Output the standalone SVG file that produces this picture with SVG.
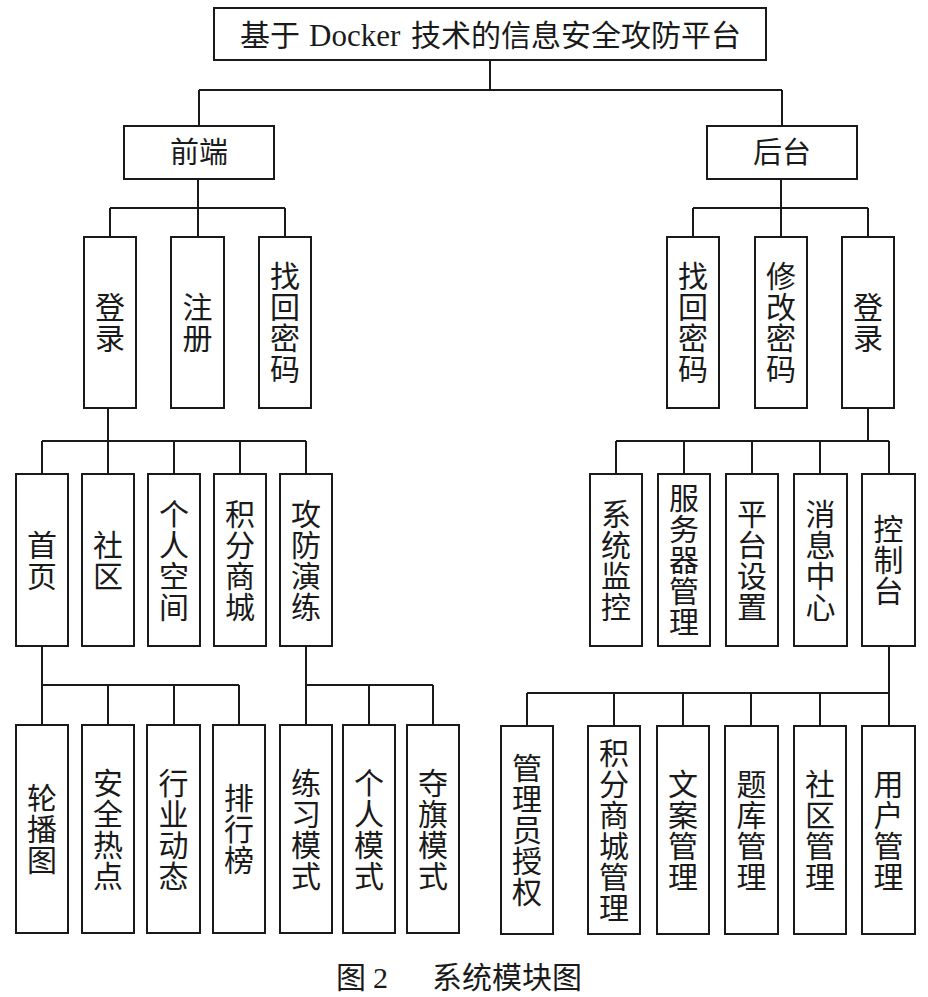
<svg xmlns="http://www.w3.org/2000/svg" width="928" height="997" viewBox="0 0 928 997">
<style>
.b{fill:#fff;stroke:#1a1a1a;stroke-width:2}
.c{fill:none;stroke:#1a1a1a;stroke-width:2}
.t{font-family:"Noto Sans CJK SC","Noto Sans",sans-serif;font-size:30px;fill:#1a1a1a;text-anchor:middle;writing-mode:vertical-rl;letter-spacing:1px}
.h{font-family:"Noto Sans CJK SC","Noto Sans",sans-serif;font-size:29px;fill:#1a1a1a;text-anchor:middle}
.cap{font-family:"Noto Sans CJK SC",sans-serif;font-size:30px;fill:#1a1a1a}
</style>
<rect width="928" height="997" fill="#fff"/>
<g id="connectors" class="c">
<path d="M490,60V90M199,90H782M199,90V126M782,90V126"/>
<path d="M198,179V208M110,208H285M110,208V237M198,208V237M285,208V237"/>
<path d="M781,179V208M693,208H868M693,208V237M781,208V237M868,208V237"/>
<path d="M108,408V441M42,441H306M42,441V474M108,441V474M174,441V474M240,441V474M306,441V474"/>
<path d="M868,408V441M616,441H889M616,441V474M684,441V474M752,441V474M820,441V474M889,441V474"/>
<path d="M42,646V685M42,685H239M42,685V725M108,685V725M174,685V725M239,685V725"/>
<path d="M306,646V685M306,685H433M306,685V725M369,685V725M433,685V725"/>
<path d="M889,646V693M527,693H889M527,693V726M614,693V726M683,693V726M751,693V726M820,693V726M889,693V726"/>
</g>
<g id="root">
<rect class="b" x="214" y="8" width="552" height="52"/>
<text y="45.5" style="font-family:'Noto Sans CJK SC',sans-serif;font-size:30px;fill:#1a1a1a"><tspan x="240">基于</tspan><tspan x="309" style="font-family:'Liberation Serif',serif;font-size:31px">Docker</tspan><tspan x="411">技术的信息安全攻防平台</tspan></text>
</g>
<g id="frontend"><rect class="b" x="124" y="126" width="150" height="53"/><text class="h" x="199" y="163">前端</text></g>
<g id="backend"><rect class="b" x="707" y="126" width="150" height="53"/><text class="h" x="782" y="163">后台</text></g>

<g id="fe-login"><rect class="b" x="84" y="237" width="52" height="171"/><text class="t" x="110" y="323">登录</text></g>
<g id="fe-register"><rect class="b" x="171" y="237" width="53" height="171"/><text class="t" x="197.5" y="323">注册</text></g>
<g id="fe-findpwd"><rect class="b" x="259" y="237" width="52" height="171"/><text class="t" x="285" y="323">找回密码</text></g>

<g id="be-findpwd"><rect class="b" x="667" y="237" width="52" height="171"/><text class="t" x="693" y="323">找回密码</text></g>
<g id="be-changepwd"><rect class="b" x="755" y="237" width="52" height="171"/><text class="t" x="781" y="323">修改密码</text></g>
<g id="be-login"><rect class="b" x="842" y="237" width="52" height="171"/><text class="t" x="868" y="323">登录</text></g>

<g id="home"><rect class="b" x="16" y="474" width="52" height="172"/><text class="t" x="42" y="560.5">首页</text></g>
<g id="community"><rect class="b" x="82" y="474" width="52" height="172"/><text class="t" x="108" y="560.5">社区</text></g>
<g id="space"><rect class="b" x="148" y="474" width="52" height="172"/><text class="t" x="174" y="560.5">个人空间</text></g>
<g id="shop"><rect class="b" x="214" y="474" width="52" height="172"/><text class="t" x="240" y="560.5">积分商城</text></g>
<g id="drill"><rect class="b" x="280" y="474" width="52" height="172"/><text class="t" x="306" y="560.5">攻防演练</text></g>

<g id="monitor"><rect class="b" x="590" y="474" width="52" height="172"/><text class="t" x="616" y="560.5">系统监控</text></g>
<g id="server"><rect class="b" x="658" y="474" width="52" height="172"/><text class="t" x="684" y="560.5">服务器管理</text></g>
<g id="settings"><rect class="b" x="726" y="474" width="52" height="172"/><text class="t" x="752" y="560.5">平台设置</text></g>
<g id="messages"><rect class="b" x="794" y="474" width="53" height="172"/><text class="t" x="820.5" y="560.5">消息中心</text></g>
<g id="console"><rect class="b" x="862" y="474" width="53" height="172"/><text class="t" x="888.5" y="560.5">控制台</text></g>

<g id="carousel"><rect class="b" x="16" y="725" width="52" height="208"/><text class="t" x="42" y="829.5">轮播图</text></g>
<g id="hotspot"><rect class="b" x="82" y="725" width="52" height="208"/><text class="t" x="108" y="829.5">安全热点</text></g>
<g id="news"><rect class="b" x="147" y="725" width="53" height="208"/><text class="t" x="173.5" y="829.5">行业动态</text></g>
<g id="ranking"><rect class="b" x="213" y="725" width="52" height="208"/><text class="t" x="239" y="829.5">排行榜</text></g>
<g id="practice"><rect class="b" x="280" y="725" width="52" height="208"/><text class="t" x="306" y="829.5">练习模式</text></g>
<g id="personal"><rect class="b" x="343" y="725" width="52" height="208"/><text class="t" x="369" y="829.5">个人模式</text></g>
<g id="ctf"><rect class="b" x="407" y="725" width="52" height="208"/><text class="t" x="433" y="829.5">夺旗模式</text></g>

<g id="admin-auth"><rect class="b" x="501" y="726" width="52" height="208"/><text class="t" x="527" y="830.5">管理员授权</text></g>
<g id="shop-mgmt"><rect class="b" x="588" y="726" width="52" height="208"/><text class="t" x="614" y="830.5">积分商城管理</text></g>
<g id="copy-mgmt"><rect class="b" x="657" y="726" width="52" height="208"/><text class="t" x="683" y="830.5">文案管理</text></g>
<g id="bank-mgmt"><rect class="b" x="725" y="726" width="53" height="208"/><text class="t" x="751.5" y="830.5">题库管理</text></g>
<g id="community-mgmt"><rect class="b" x="794" y="726" width="52" height="208"/><text class="t" x="820" y="830.5">社区管理</text></g>
<g id="user-mgmt"><rect class="b" x="862" y="726" width="53" height="208"/><text class="t" x="888.5" y="830.5">用户管理</text></g>

<text class="cap" y="987.5"><tspan x="336">图</tspan><tspan x="373" style="font-family:'Liberation Serif',serif">2</tspan><tspan x="432">系统模块图</tspan></text>
</svg>
